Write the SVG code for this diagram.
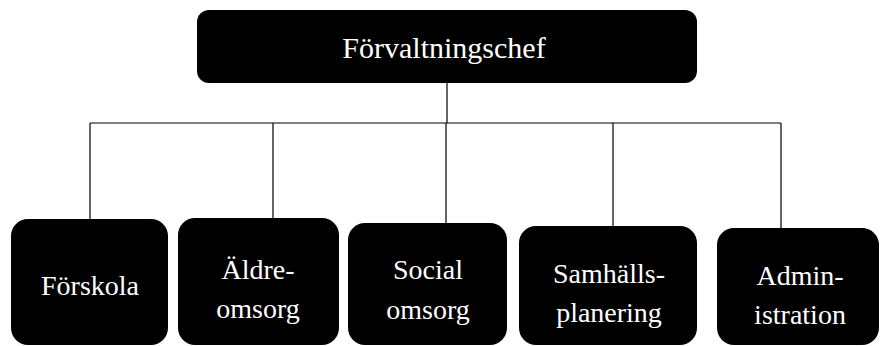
<svg xmlns="http://www.w3.org/2000/svg" width="880" height="346" viewBox="0 0 880 346">
<style>
.box{fill:#000}
text{font-family:'Liberation Serif',serif;font-size:28px;fill:#fff;text-anchor:middle}
.top{font-size:30px}
.con{stroke:#000;stroke-width:1.2;fill:none}
</style>
<rect width="880" height="346" fill="#fff"/>
<g id="connectors">
<path class="con" d="M447 83V123M90 123H781M90 123V219M273 123V218M446 123V223M613 123V226M781 123V228"/>
</g>
<g id="chef"><rect class="box" x="197" y="10" width="500" height="73" rx="12"/><text class="top" x="444" y="58">Förvaltningschef</text></g>
<g id="forskola"><rect class="box" x="11" y="219" width="157" height="126" rx="17"/><text x="90" y="295">Förskola</text></g>
<g id="aldreomsorg"><rect class="box" x="178" y="218" width="161" height="127" rx="17"/><text x="258" y="279">Äldre-</text><text x="258" y="318">omsorg</text></g>
<g id="socialomsorg"><rect class="box" x="348" y="223" width="159" height="122" rx="17"/><text x="428" y="279">Social</text><text x="428" y="319">omsorg</text></g>
<g id="samhallsplanering"><rect class="box" x="519" y="226" width="178" height="119" rx="17"/><text x="609" y="283">Samhälls-</text><text x="609" y="322">planering</text></g>
<g id="administration"><rect class="box" x="717" y="228" width="162" height="117" rx="17"/><text x="800" y="285">Admin-</text><text x="800" y="324">istration</text></g>
</svg>
